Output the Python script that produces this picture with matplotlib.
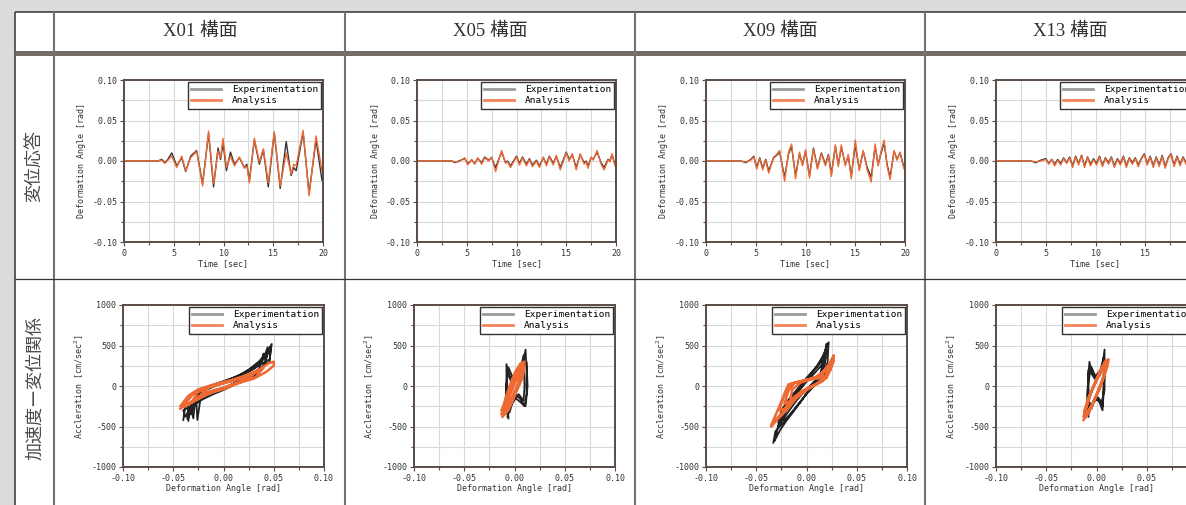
import matplotlib
matplotlib.use('Agg')
import matplotlib.pyplot as plt
from matplotlib.lines import Line2D
from matplotlib.patches import Rectangle
from matplotlib.ticker import MultipleLocator, FormatStrFormatter

W, H = 1186, 505

frames = ['X01 構面', 'X05 構面', 'X09 構面', 'X13 構面']
row_labels = ['変位応答', '加速度ー変位関係']

# displacement response (time [sec], deformation angle [rad])
t1 = [0, 3.4, 3.8, 4.1, 4.4, 4.8, 5.3, 5.8, 6.2, 6.7, 7.3, 7.9, 8.5, 9.0, 9.45, 9.7, 9.95, 10.3, 10.7, 11.1,
      11.6, 12.1, 12.35, 12.6, 13.1, 13.6, 14.0, 14.5, 15.1, 15.7, 16.3, 16.8, 17.05, 17.3, 18.0, 18.6, 19.3, 19.9, 20.0]
exp1 = [0, 0, 0.002, -0.002, 0.002, 0.010, -0.006, 0.004, -0.013, 0.006, 0.013, -0.028, 0.034, -0.032, 0.016, 0.002,
        0.022, -0.012, 0.011, -0.004, 0.004, -0.008, -0.004, -0.024, 0.026, -0.004, 0.014, -0.032, 0.035, -0.034,
        0.024, -0.018, -0.008, -0.012, 0.035, -0.040, 0.026, -0.024, -0.018]
ana1 = [0, 0, 0.001, -0.003, 0.001, 0.006, -0.008, 0.006, -0.012, 0.004, 0.012, -0.031, 0.037, -0.028, 0.012, 0.004,
        0.028, -0.008, 0.006, -0.006, 0.005, -0.009, -0.006, -0.027, 0.028, -0.001, 0.015, -0.027, 0.036, -0.031,
        0.010, -0.016, -0.004, -0.006, 0.038, -0.043, 0.031, -0.012, -0.010]

t2 = [0, 3.5, 3.8, 4.2, 4.8, 5.1, 5.5, 5.8, 6.1, 6.5, 6.8, 7.2, 7.5, 7.9, 8.5, 8.9, 9.1, 9.4, 10.0, 10.3,
      10.6, 11.0, 11.3, 11.6, 12.0, 12.3, 12.7, 13.0, 13.3, 13.7, 14.0, 14.4, 15.0, 15.3, 15.6, 16.0, 16.4, 16.8, 17.0, 17.2,
      17.5, 17.7, 18.1, 18.5, 18.8, 19.2, 19.4, 19.6, 19.9, 20.0]
exp2 = [0, 0, -0.002, 0.000, 0.003, -0.003, 0.001, -0.003, 0.003, -0.002,
        0.005, 0.001, 0.004, -0.008, 0.011, -0.002, 0.000, -0.006, 0.006, -0.003,
        0.005, -0.004, 0.003, -0.005, 0.001, -0.006, 0.004, -0.004, 0.006, -0.003,
        0.006, -0.008, 0.011, 0.002, 0.008, -0.008, 0.008, -0.002, 0.000, -0.006,
        0.004, 0.002, 0.011, -0.002, -0.008, 0.002, 0.000, 0.008, -0.004, -0.005]
ana2 = [0, 0, -0.001, -0.001, 0.004, -0.005, 0.002, -0.004, 0.004, -0.004,
        0.004, 0.000, 0.005, -0.013, 0.013, -0.003, -0.001, -0.008, 0.005, -0.005,
        0.004, -0.006, 0.002, -0.007, 0.000, -0.008, 0.005, -0.006, 0.005, -0.005,
        0.007, -0.011, 0.010, 0.000, 0.009, -0.011, 0.009, -0.004, -0.001, -0.009,
        0.005, 0.001, 0.013, -0.004, -0.011, 0.001, -0.001, 0.009, -0.006, -0.007]

t3 = [0, 3.5, 4.0, 4.5, 4.8, 5.1, 5.4, 5.7, 6.0, 6.3, 6.8, 7.1, 7.4, 7.9, 8.3, 8.6, 9.0, 9.4, 9.7, 10.0,
      10.4, 10.8, 11.2, 11.6, 12.0, 12.3, 12.6, 13.0, 13.3, 13.6, 14.0, 14.3, 14.6, 15.0, 15.4, 15.8, 16.2, 16.6, 17.0, 17.3,
      17.6, 17.9, 18.2, 18.5, 18.9, 19.2, 19.5, 19.9, 20.0]
exp3 = [0, 0, -0.002, 0.002, 0.006, -0.008, 0.004, -0.009, 0.002, -0.012,
        0.004, 0.007, 0.011, -0.020, 0.009, 0.018, -0.018, 0.009, -0.004, 0.012,
        -0.018, 0.016, -0.008, 0.010, -0.004, 0.008, -0.016, 0.018, -0.004, 0.017,
        -0.004, 0.006, -0.019, 0.020, -0.010, 0.012, -0.008, -0.020, 0.018, -0.004,
        0.010, 0.022, -0.004, -0.020, 0.012, 0.002, 0.010, -0.008, -0.009]
ana3 = [0, 0, -0.001, 0.001, 0.005, -0.010, 0.003, -0.011, 0.001, -0.015,
        0.005, 0.008, 0.013, -0.025, 0.011, 0.021, -0.022, 0.011, -0.006, 0.014,
        -0.021, 0.015, -0.010, 0.009, -0.006, 0.007, -0.019, 0.020, -0.007, 0.020,
        -0.006, 0.008, -0.022, 0.026, -0.012, 0.013, -0.011, -0.026, 0.021, -0.006,
        0.012, 0.026, -0.006, -0.023, 0.013, 0.001, 0.011, -0.010, -0.010]

t4 = [0, 3.5, 4.0, 4.5, 5.0, 5.3, 5.6, 5.9, 6.2, 6.5, 6.8, 7.1, 7.4, 7.7, 8.0, 8.3, 8.6, 8.9, 9.2, 9.5,
      9.8, 10.1, 10.4, 10.7, 11.0, 11.3, 11.6, 11.9, 12.2, 12.5, 12.8, 13.1, 13.4, 13.7, 14.0, 14.3, 14.6, 14.9, 15.2, 15.5,
      15.8, 16.1, 16.4, 16.7, 17.0, 17.3, 17.6, 17.9, 18.2, 18.5, 18.8, 19.1, 19.4, 19.7, 20.0]
exp4 = [0, 0, -0.002, 0.001, 0.003, -0.003, 0.002, -0.004, 0.002, -0.003,
        0.004, -0.002, 0.005, -0.006, 0.006, -0.003, 0.007, -0.006, 0.005, -0.004,
        0.003, -0.003, 0.006, -0.005, 0.004, -0.002, 0.005, -0.006, 0.003, -0.003,
        0.006, -0.006, 0.004, -0.002, 0.004, -0.005, 0.003, 0.009, -0.003, 0.006,
        -0.006, 0.005, -0.005, 0.007, -0.007, 0.004, 0.009, -0.005, 0.006, -0.004,
        0.005, -0.002, 0.005, -0.003, 0.002]
ana4 = [0, 0, -0.001, 0.000, 0.002, -0.004, 0.002, -0.006, 0.001, -0.005,
        0.003, -0.003, 0.004, -0.008, 0.005, -0.005, 0.007, -0.008, 0.004, -0.006,
        0.002, -0.005, 0.005, -0.007, 0.003, -0.004, 0.004, -0.008, 0.002, -0.005,
        0.005, -0.008, 0.003, -0.004, 0.003, -0.007, 0.002, 0.008, -0.005, 0.005,
        -0.008, 0.004, -0.007, 0.006, -0.009, 0.003, 0.008, -0.007, 0.005, -0.006,
        0.004, -0.004, 0.004, -0.005, 0.001]

# acceleration - displacement loops, (angle [rad], acceleration [cm/sec2]) vertices
loop1_exp = [(-0.040, -420), (-0.038, -250), (-0.030, -180), (-0.020, -110), (-0.010, -60), (0.000, -20),
             (0.010, 30), (0.020, 80), (0.030, 150), (0.040, 250), (0.046, 300), (0.047, 500), (0.044, 420),
             (0.040, 330), (0.030, 240), (0.020, 160), (0.010, 100), (0.000, 50), (-0.010, 0), (-0.020, -50),
             (-0.028, -150), (-0.030, -400), (-0.032, -300),
             (-0.036, -410), (-0.035, -220), (-0.025, -160), (-0.015, -100), (-0.005, -40), (0.005, 0),
             (0.015, 60), (0.025, 110), (0.035, 200), (0.042, 280), (0.044, 480), (0.041, 380), (0.035, 300),
             (0.025, 200), (0.015, 130), (0.005, 80), (-0.005, 30), (-0.015, -20), (-0.022, -80), (-0.026, -420),
             (-0.027, -200),
             (-0.033, -350), (-0.030, -250), (-0.022, -150), (-0.012, -80), (0.000, -30), (0.012, 40),
             (0.024, 100), (0.034, 160), (0.040, 400), (0.038, 290), (0.030, 210), (0.018, 140), (0.006, 60),
             (-0.006, 10), (-0.016, -40), (-0.025, -120), (-0.038, -380),
             (-0.040, -300), (-0.030, -230), (-0.020, -160), (-0.010, -100), (0.000, -50), (0.010, 10),
             (0.020, 60), (0.030, 120), (0.038, 200), (0.048, 520), (0.046, 330), (0.036, 260), (0.024, 170),
             (0.012, 110), (0.000, 60), (-0.012, 10), (-0.022, -40), (-0.032, -200), (-0.035, -430)]
loop1_ana = [(-0.043, -280), (-0.035, -220), (-0.025, -130), (-0.015, -70), (0.000, -20), (0.015, 40),
             (0.030, 90), (0.042, 170), (0.050, 250), (0.050, 300), (0.045, 280), (0.035, 200), (0.022, 130),
             (0.010, 80), (0.000, 50), (-0.012, 10), (-0.025, -40), (-0.035, -120), (-0.043, -250),
             (-0.038, -250), (-0.028, -180), (-0.018, -110), (-0.005, -50), (0.008, 10), (0.020, 60),
             (0.032, 110), (0.040, 230), (0.036, 190), (0.026, 130), (0.014, 90), (0.002, 50), (-0.010, 0),
             (-0.022, -40), (-0.030, -100), (-0.040, -240),
             (-0.032, -200), (-0.022, -140), (-0.012, -80), (0.000, -40), (0.012, 20), (0.024, 80),
             (0.034, 200), (0.030, 150), (0.020, 100), (0.008, 60), (-0.004, 20), (-0.016, -20), (-0.026, -80),
             (-0.030, -170),
             (-0.022, -120), (-0.010, -70), (0.002, -20), (0.014, 40), (0.024, 100), (0.020, 110), (0.010, 70),
             (-0.002, 30), (-0.014, -10), (-0.022, -100)]

loop2_exp = [(-0.006, -400), (-0.008, -100), (-0.008, 270), (-0.006, 150), (-0.002, 0), (0.003, 100),
             (0.008, 250), (0.011, 450), (0.012, 200), (0.012, -100), (0.010, -250), (0.006, -200),
             (0.001, -150), (-0.004, -250), (-0.007, -350), (-0.009, -200), (-0.007, 200), (-0.004, 100),
             (0.002, 150), (0.006, 200), (0.009, 380), (0.010, 0), (0.009, -180), (0.004, -100), (-0.002, -200),
             (-0.005, -330), (-0.008, 0), (-0.006, 230), (-0.001, 80), (0.005, 150), (0.012, 300), (0.013, 0),
             (0.011, -250), (0.005, -150), (0.000, -100), (-0.006, -300), (-0.007, -380)]
loop2_ana = [(-0.012, -380), (-0.006, -300), (-0.001, -150), (0.004, 0), (0.008, 150), (0.010, 300),
             (0.006, 280), (0.001, 180), (-0.004, 30), (-0.009, -150), (-0.012, -300),
             (-0.009, -300), (-0.003, -200), (0.002, -50), (0.007, 120), (0.009, 260), (0.005, 220),
             (0.000, 100), (-0.005, -60), (-0.009, -220), (-0.011, -340), (-0.005, -250), (0.000, -120),
             (0.005, 60), (0.009, 230), (0.006, 200), (0.001, 60), (-0.004, -100), (-0.008, -240),
             (-0.007, -250), (-0.002, -130), (0.003, 20), (0.007, 200), (0.004, 180), (-0.001, 40),
             (-0.006, -120), (-0.013, -350), (-0.008, -300), (-0.002, -180), (0.003, -30), (0.008, 100),
             (0.010, 250), (0.007, 260), (0.002, 120), (-0.003, -20), (-0.008, -170), (-0.013, -300)]

loop3_exp = [(-0.033, -700), (-0.031, -560), (-0.025, -480), (-0.018, -380), (-0.010, -250), (0.000, -100),
             (0.010, 30), (0.018, 150), (0.021, 300), (0.022, 540), (0.020, 480), (0.016, 360), (0.010, 240),
             (0.000, 100), (-0.010, -50), (-0.018, -170), (-0.025, -300), (-0.030, -600), (-0.032, -680),
             (-0.026, -540), (-0.020, -430), (-0.012, -300), (-0.004, -160), (0.004, -20), (0.012, 100),
             (0.018, 250), (0.020, 450), (0.017, 380), (0.012, 270), (0.004, 140), (-0.004, 20), (-0.012, -100),
             (-0.020, -230), (-0.025, -400),
             (-0.022, -420), (-0.014, -320), (-0.006, -200), (0.002, -60), (0.010, 80), (0.016, 200),
             (0.019, 350), (0.015, 300), (0.008, 200), (0.000, 60), (-0.008, -70), (-0.016, -200),
             (-0.022, -350), (-0.028, -500), (-0.020, -350), (-0.010, -180), (0.000, -40), (0.008, 60),
             (0.014, 160), (0.020, 520), (0.018, 300), (0.006, 130), (-0.004, 0), (-0.014, -150),
             (-0.024, -330), (-0.028, -450)]
loop3_ana = [(-0.035, -500), (-0.028, -400), (-0.020, -300), (-0.010, -150), (0.000, -50), (0.010, 20),
             (0.020, 100), (0.027, 300), (0.027, 380), (0.022, 250), (0.015, 130), (0.005, 90), (-0.005, 60),
             (-0.015, 30), (-0.020, -50), (-0.027, -250), (-0.035, -480),
             (-0.028, -380), (-0.020, -270), (-0.012, -140), (-0.004, -60), (0.006, 0), (0.016, 60),
             (0.024, 200), (0.025, 320), (0.020, 220), (0.012, 120), (0.002, 80), (-0.008, 50), (-0.018, 20),
             (-0.022, -100), (-0.027, -300),
             (-0.022, -280), (-0.014, -160), (-0.006, -80), (0.004, -10), (0.014, 50), (0.020, 150),
             (0.022, 260), (0.017, 180), (0.008, 100), (-0.002, 70), (-0.012, 40), (-0.018, -60),
             (-0.022, -220), (-0.016, -180), (-0.008, -100), (0.002, -30), (0.012, 40), (0.018, 120),
             (0.014, 100), (0.004, 80), (-0.006, 40), (-0.014, -40), (-0.016, -150)]

loop4_exp = [(-0.008, -380), (-0.009, -100), (-0.008, 150), (-0.007, 300), (-0.005, 150), (-0.001, 80),
             (0.003, 150), (0.006, 250), (0.008, 450), (0.008, 150), (0.007, -100), (0.006, -300),
             (0.003, -200), (-0.001, -150), (-0.005, -250), (-0.008, -350), (-0.009, -150), (-0.008, 200),
             (-0.005, 230), (-0.001, 120), (0.004, 200), (0.007, 350), (0.007, 0), (0.006, -250), (0.002, -150),
             (-0.003, -200), (-0.007, -300), (-0.008, 0), (-0.006, 250), (-0.002, 100), (0.003, 120),
             (0.008, 300), (0.008, -50), (0.005, -200), (0.000, -120), (-0.005, -280), (-0.007, -200)]
loop4_ana = [(-0.013, -420), (-0.008, -340), (-0.003, -200), (0.002, -50), (0.007, 100), (0.011, 250),
             (0.012, 330), (0.009, 310), (0.004, 200), (-0.001, 50), (-0.006, -100), (-0.010, -250),
             (-0.013, -380), (-0.011, -370), (-0.006, -280), (-0.001, -140), (0.004, 0), (0.008, 150),
             (0.011, 300), (0.007, 260), (0.002, 140), (-0.003, 0), (-0.008, -150), (-0.011, -300),
             (-0.009, -320), (-0.004, -220), (0.001, -80), (0.006, 80), (0.009, 230), (0.005, 200),
             (0.000, 70), (-0.005, -70), (-0.009, -220), (-0.012, -340), (-0.007, -300), (-0.002, -170),
             (0.003, -40), (0.007, 120), (0.010, 280), (0.008, 280), (0.003, 150), (-0.002, 20),
             (-0.007, -120), (-0.012, -300)]

time_series = [(t1, exp1, ana1), (t2, exp2, ana2), (t3, exp3, ana3), (t4, exp4, ana4)]
loops = [(loop1_exp, loop1_ana), (loop2_exp, loop2_ana), (loop3_exp, loop3_ana), (loop4_exp, loop4_ana)]

EXP_COLOR = '#333333'
ANA_COLOR = '#ee6a35'
SPINE = '#5a4c45'
MONO = 'DejaVu Sans Mono'
CJK = ['Liberation Serif', 'Noto Sans CJK JP']

plt.rcParams['axes.unicode_minus'] = False

fig = plt.figure(figsize=(W / 100, H / 100), dpi=100)
fig.patch.set_facecolor('#dcdcdc')


def fx(px):
    return px / W


def fy(py):
    return 1 - py / H


def line(x0, y0, x1, y1, color, lw):
    fig.add_artist(Line2D([fx(x0), fx(x1)], [fy(y0), fy(y1)], transform=fig.transFigure,
                          color=color, linewidth=lw, solid_capstyle='butt'))


# table background and rules
fig.add_artist(Rectangle((fx(15), 0), 1, fy(12), transform=fig.transFigure,
                         facecolor='white', edgecolor='none', zorder=0))
line(15, 12, W + 5, 12, '#333333', 1.1)
line(15, 12, 15, H + 5, '#333333', 1.1)
line(15, 52.5, W + 5, 52.5, '#766c68', 3.6)
for xc in [54, 345, 635, 925]:
    line(xc, 12, xc, H + 5, '#7a706c', 1.5)
line(15, 279, W + 5, 279, '#3a3232', 0.9)

for name, xc in zip(frames, [200, 490, 780, 1070]):
    fig.text(fx(xc), fy(31), name, ha='center', va='center', fontsize=13.5,
             family=CJK, color='#333333')
for lab, yc in zip(row_labels, [166, 388]):
    fig.text(fx(35), fy(yc), lab, ha='center', va='center', rotation=90, fontsize=13,
             family=['Noto Sans CJK JP'], color='#4a4a4a')


def style(ax, xlim, ylim, xmaj, xmin, ymaj, ymin, xfmt, yfmt):
    ax.set_xlim(*xlim)
    ax.set_ylim(*ylim)
    ax.xaxis.set_major_locator(MultipleLocator(xmaj))
    ax.xaxis.set_minor_locator(MultipleLocator(xmin))
    ax.yaxis.set_major_locator(MultipleLocator(ymaj))
    ax.yaxis.set_minor_locator(MultipleLocator(ymin))
    ax.xaxis.set_major_formatter(FormatStrFormatter(xfmt))
    ax.yaxis.set_major_formatter(FormatStrFormatter(yfmt))
    ax.grid(True, which='both', color='#d9d9d9', linewidth=0.8)
    ax.set_axisbelow(True)
    for s in ax.spines.values():
        s.set_color(SPINE)
        s.set_linewidth(1.4)
    ax.tick_params(which='major', direction='out', length=3, width=0.8, color=SPINE,
                   labelsize=6, pad=2, labelcolor='#333333')
    ax.tick_params(which='minor', direction='out', length=2, width=0.8, color=SPINE)
    for lbl in ax.get_xticklabels() + ax.get_yticklabels():
        lbl.set_family(MONO)


def add_legend(ax):
    handles = [Line2D([], [], color='#9a9a9a', lw=2), Line2D([], [], color='#f4845a', lw=2)]
    leg = ax.legend(handles, ['Experimentation', 'Analysis'], loc='upper right',
                    bbox_to_anchor=(0.992, 0.99), borderaxespad=0, fancybox=False,
                    prop={'family': MONO, 'size': 6.8}, handlelength=3.2, handletextpad=1.1,
                    borderpad=0.35, labelspacing=0.25, framealpha=1)
    leg.get_frame().set_edgecolor('#333333')
    leg.get_frame().set_linewidth(1.0)


top_lefts = [124, 417, 706, 996]
bot_lefts = [123, 414, 706, 996]

for i in range(4):
    # time history of deformation angle
    t, e, a = time_series[i]
    ax = fig.add_axes([fx(top_lefts[i]), fy(242), fx(199), 162 / H])
    ax.plot(t, e, color=EXP_COLOR, lw=1.0)
    ax.plot(t, a, color=ANA_COLOR, lw=1.0)
    style(ax, (0, 20), (-0.10, 0.10), 5, 2.5, 0.05, 0.025, '%d', '%.2f')
    ax.set_xlabel('Time [sec]', family=MONO, fontsize=6, labelpad=1, color='#333333')
    ax.set_ylabel('Deformation Angle [rad]', family=MONO, fontsize=6, labelpad=4, color='#333333')
    add_legend(ax)

    # acceleration vs deformation angle
    pe, pa = loops[i]
    xe, ye = zip(*pe)
    xa, ya = zip(*pa)
    ax = fig.add_axes([fx(bot_lefts[i]), fy(467), fx(201), 162 / H])
    ax.plot(xe, ye, color='#222222', lw=1.3)
    ax.plot(xa, ya, color=ANA_COLOR, lw=1.8)
    style(ax, (-0.10, 0.10), (-1000, 1000), 0.05, 0.025, 500, 250, '%.2f', '%d')
    ax.set_xlabel('Deformation Angle [rad]', family=MONO, fontsize=6, labelpad=1, color='#333333')
    ax.set_ylabel('Accleration [cm/sec$^2$]', family=MONO, fontsize=6, labelpad=4, color='#333333')
    add_legend(ax)

fig.savefig('out.png', dpi=100, facecolor=fig.get_facecolor())
